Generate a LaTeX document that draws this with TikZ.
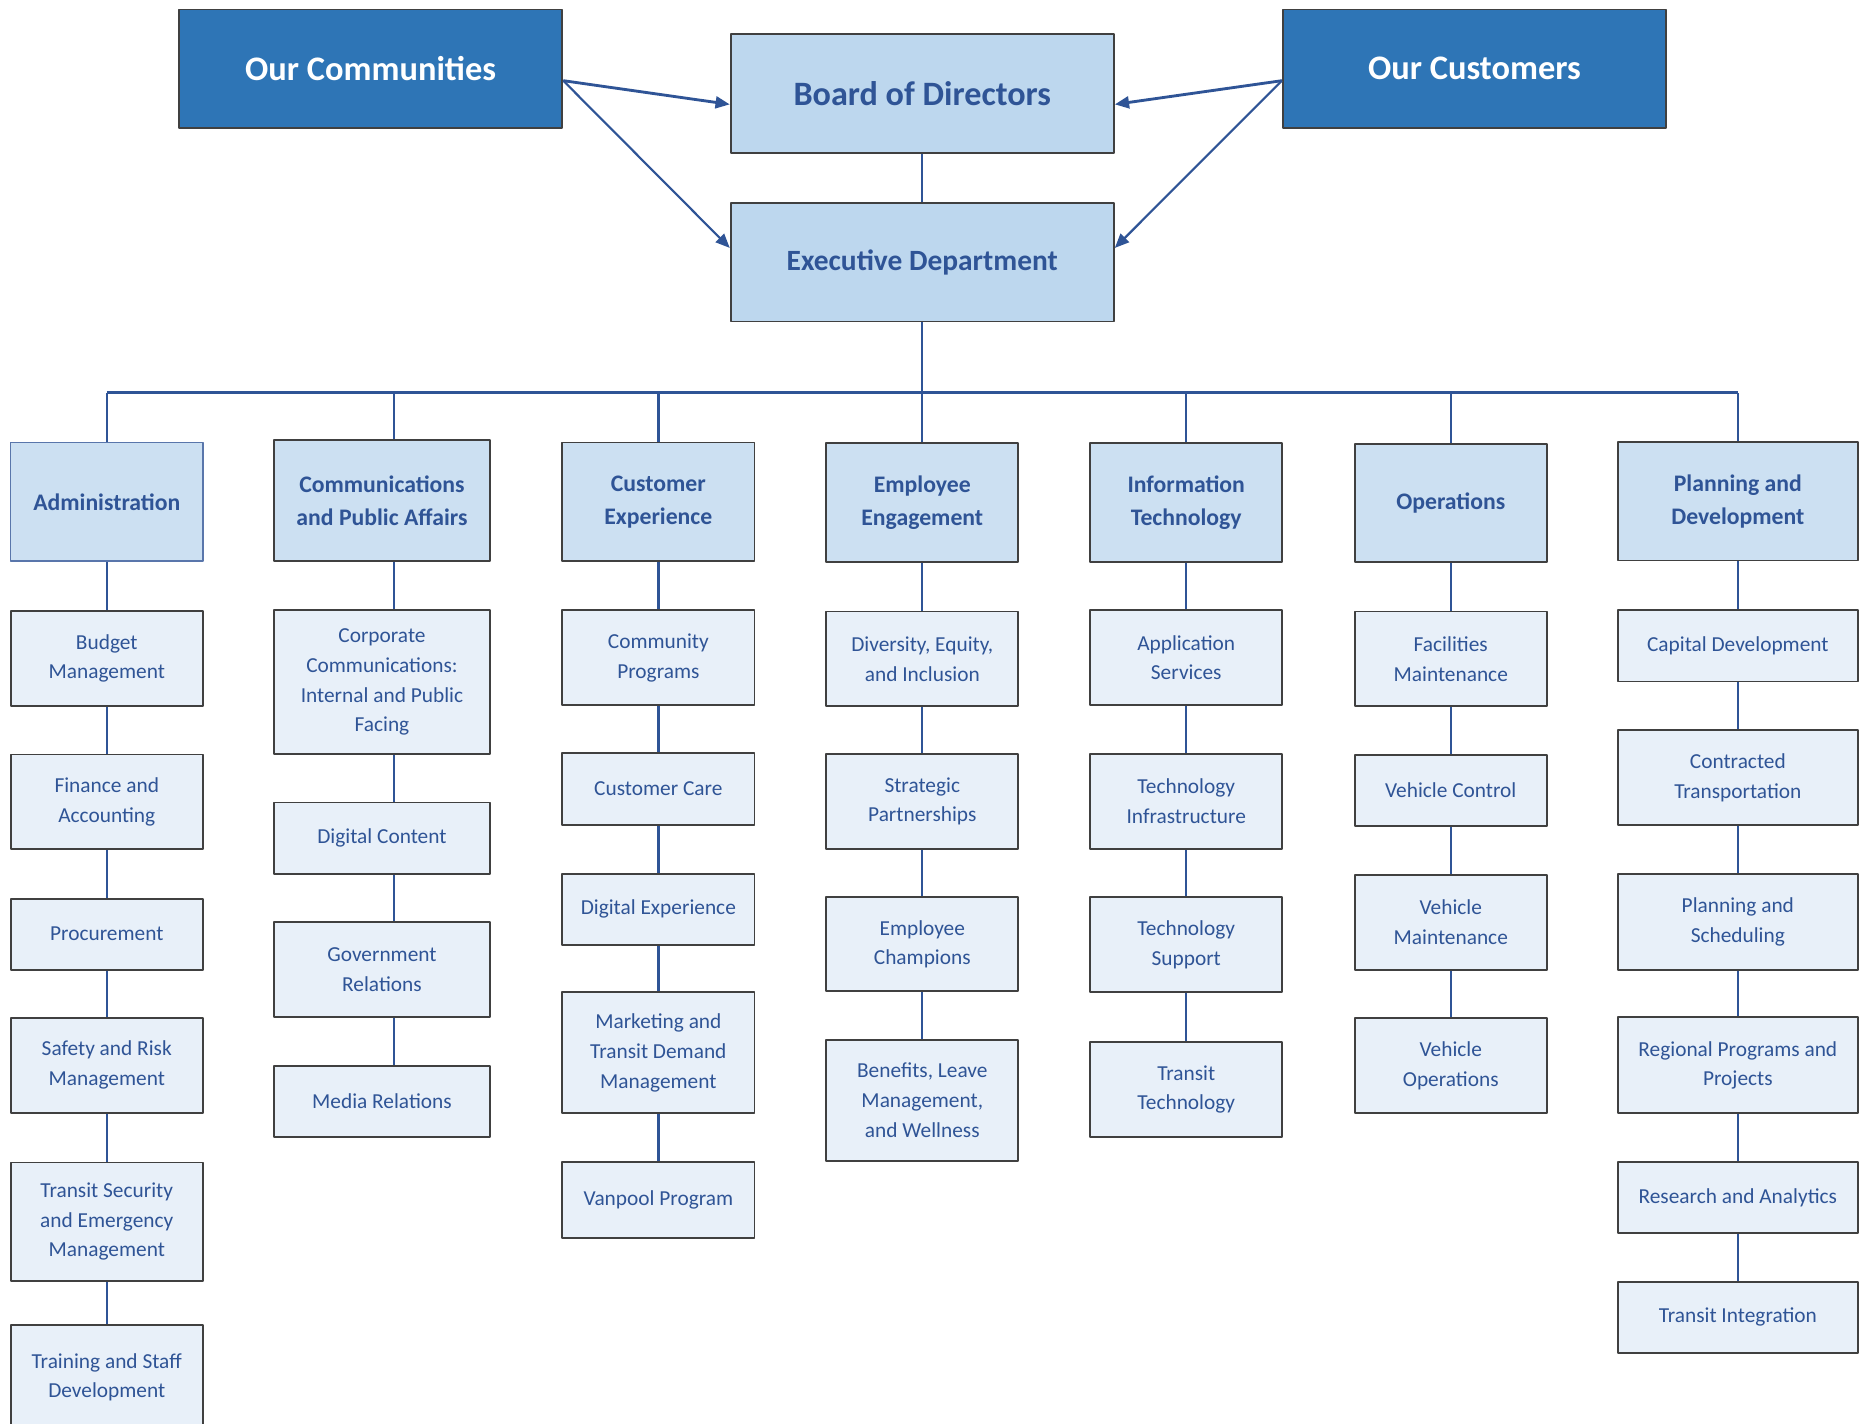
\documentclass[tikz,border=0pt]{standalone}
\usepackage{fontspec}
\setmainfont{Carlito}
\usetikzlibrary{arrows.meta}
\definecolor{topblue}{RGB}{46,117,182}
\definecolor{boardfill}{RGB}{189,215,238}
\definecolor{headfill}{RGB}{204,224,242}
\definecolor{unitfill}{RGB}{232,240,249}
\definecolor{textblue}{RGB}{47,84,150}
\definecolor{edge}{RGB}{64,64,64}
\begin{document}
\begin{tikzpicture}[x=0.5pt,y=-0.5pt, line join=round,
	outer/.style={draw=edge, line width=0.8pt, fill=topblue, text=white, font=\fontsize{14.5}{17}\selectfont\bfseries, minimum width=161.5pt, minimum height=50pt, inner sep=0pt},
	top/.style={draw=edge, line width=0.8pt, fill=boardfill, text=textblue, font=\fontsize{14.4}{17}\selectfont\bfseries, minimum width=161.5pt, minimum height=50pt, inner sep=0pt},
	head/.style={draw=edge, line width=0.8pt, fill=headfill, text=textblue, font=\fontsize{10}{14}\selectfont\bfseries, align=center, minimum width=81pt, minimum height=50pt, inner sep=0pt},
	unit/.style={draw=edge, line width=0.8pt, fill=unitfill, text=textblue, font=\fontsize{9}{12.5}\selectfont, align=center, minimum width=81pt, inner sep=0pt},
	link/.style={draw=textblue, line width=1pt},
	feed/.style={draw=textblue, -{Triangle[length=6pt,width=5pt]}}]
	\useasboundingbox (0,0) rectangle (1568,1200);
	% top row
	\node[outer] (comty) at (312.5,58) {Our Communities};
	\node[top] (board) at (777.5,79) {Board of Directors};
	\node[outer] (custs) at (1243,58) {Our Customers};
	\node[top, font=\fontsize{12.4}{15}\selectfont\bfseries] (exec) at (777.5,221) {Executive Department};
	\draw[feed, line width=1.2pt] ([yshift=-5pt]comty.east) -- ([yshift=-4.5pt]board.west);
	\draw[feed, line width=0.9pt] ([yshift=-5pt]comty.east) -- ([yshift=6pt]exec.west);
	\draw[feed, line width=1.2pt] ([yshift=-5pt]custs.west) -- ([yshift=-4.5pt]board.east);
	\draw[feed, line width=0.9pt] ([yshift=-5pt]custs.west) -- ([yshift=6pt]exec.east);
	\draw[link] (board) -- (exec);
	% departments
	\node[head, draw=textblue!80, line width=0.6pt] (adm) at (90,423) {Administration};
	\node[head, minimum width=91pt, minimum height=51pt] (cpa) at (322,422) {Communications\\and Public Affairs};
	\node[head] (cx) at (555,423) {Customer\\Experience};
	\node[head] (ee) at (777.5,423.5) {Employee\\Engagement};
	\node[head] (it) at (1000,423.5) {Information\\Technology};
	\node[head] (ops) at (1223,424) {Operations};
	\node[head, minimum width=101pt] (pd) at (1465,422.5) {Planning and\\Development};
	\coordinate (busL) at (90,331);
	\coordinate (busR) at (1465,331);
	\draw[link] (busL) -- (busR);
	\draw[link] (exec) -- (exec.south |- busL);
	\foreach \d in {adm,cx,ee,it,ops,pd}
		\draw[link] (\d.north) -- (\d.north |- busL);
	\draw[link] ([xshift=5pt]cpa.north) -- ([xshift=5pt]cpa.north |- busL);
	% Administration
	\node[unit, minimum height=40pt] (a1) at (90,555) {Budget\\Management};
	\node[unit, minimum height=40pt] (a2) at (90,676) {Finance and\\Accounting};
	\node[unit, minimum height=30pt] (a3) at (90,787.5) {Procurement};
	\node[unit, minimum height=40pt] (a4) at (90,898) {Safety and Risk\\Management};
	\node[unit, minimum height=50pt] (a5) at (90,1030) {Transit Security\\and Emergency\\Management};
	\node[unit, minimum height=44pt] (a6) at (90,1161) {Training and Staff\\Development};
	% Communications and Public Affairs
	\node[unit, minimum width=91pt, minimum height=60.5pt] (b1) at (322,575) {Corporate\\Communications:\\Internal and Public\\Facing};
	\node[unit, minimum width=91pt, minimum height=30pt] (b2) at (322,706.5) {Digital Content};
	\node[unit, minimum width=91pt, minimum height=40pt] (b3) at (322,817.5) {Government\\Relations};
	\node[unit, minimum width=91pt, minimum height=30pt] (b4) at (322,928.5) {Media Relations};
	% Customer Experience
	\node[unit, minimum height=40pt] (c1) at (555,554.5) {Community\\Programs};
	\node[unit, minimum height=30.5pt] (c2) at (555,665) {Customer Care};
	\node[unit, minimum height=30pt] (c3) at (555,766.5) {Digital Experience};
	\node[unit, minimum height=51pt] (c4) at (555,887.5) {Marketing and\\Transit Demand\\Management};
	\node[unit, minimum height=32pt] (c5) at (555,1011.5) {Vanpool Program};
	% Employee Engagement
	\node[unit, minimum height=40pt] (d1) at (777.5,555.5) {Diversity, Equity,\\and Inclusion};
	\node[unit, minimum height=40pt] (d2) at (777.5,675.5) {Strategic\\Partnerships};
	\node[unit, minimum height=39.5pt] (d3) at (777.5,796) {Employee\\Champions};
	\node[unit, minimum height=51pt] (d4) at (777.5,927.5) {Benefits, Leave\\Management,\\and Wellness};
	% Information Technology
	\node[unit, minimum height=40pt] (e1) at (1000,554.5) {Application\\Services};
	\node[unit, minimum height=40pt] (e2) at (1000,675.5) {Technology\\Infrastructure};
	\node[unit, minimum height=40pt] (e3) at (1000,796.5) {Technology\\Support};
	\node[unit, minimum height=40pt] (e4) at (1000,918.5) {Transit\\Technology};
	% Operations
	\node[unit, minimum height=40pt] (f1) at (1223,555.5) {Facilities\\Maintenance};
	\node[unit, minimum height=30pt] (f2) at (1223,666.5) {Vehicle Control};
	\node[unit, minimum height=40pt] (f3) at (1223,777.5) {Vehicle\\Maintenance};
	\node[unit, minimum height=40pt] (f4) at (1223,898.5) {Vehicle\\Operations};
	% Planning and Development
	\node[unit, minimum width=101pt, minimum height=30pt] (g1) at (1465,544.5) {Capital Development};
	\node[unit, minimum width=101pt, minimum height=40pt] (g2) at (1465,655.5) {Contracted\\Transportation};
	\node[unit, minimum width=101pt, minimum height=40.5pt] (g3) at (1465,777) {Planning and\\Scheduling};
	\node[unit, minimum width=101pt, minimum height=40.5pt] (g4) at (1465,898) {Regional Programs and\\Projects};
	\node[unit, minimum width=101pt, minimum height=30pt] (g5) at (1465,1009.5) {Research and Analytics};
	\node[unit, minimum width=101pt, minimum height=30pt] (g6) at (1465,1110.5) {Transit Integration};
	% connectors
	\foreach \a/\b in {adm/a1,a1/a2,a2/a3,a3/a4,a4/a5,a5/a6,
		cx/c1,c1/c2,c2/c3,c3/c4,c4/c5, ee/d1,d1/d2,d2/d3,d3/d4,
		it/e1,e1/e2,e2/e3,e3/e4, ops/f1,f1/f2,f2/f3,f3/f4,
		pd/g1,g1/g2,g2/g3,g3/g4,g4/g5,g5/g6}
		\draw[link] (\a) -- (\b);
	\foreach \a/\b in {cpa/b1,b1/b2,b2/b3,b3/b4}
		\draw[link] ([xshift=5pt]\a.south) -- ([xshift=5pt]\b.north);
\end{tikzpicture}
\end{document}
